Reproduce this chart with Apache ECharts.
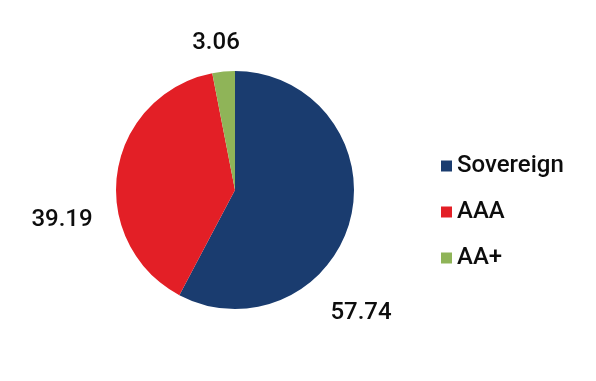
<!DOCTYPE html>
<html><head><meta charset="utf-8">
<script src="https://cdn.jsdelivr.net/npm/echarts@6/dist/echarts.min.js"></script>
<style>html,body{margin:0;padding:0;background:#fff}#c{width:596px;height:381px}</style>
</head><body><div id="c"></div>
<script>
const categories = ['Sovereign', 'AAA', 'AA+'];
const values = [57.74, 39.19, 3.06];
const colors = ['#1a3c6f', '#e31f26', '#8fb458'];
const labelPos = [[361, 313], [62, 220], [216, 43]];

const chart = echarts.init(document.getElementById('c'), null, {renderer: 'canvas'});
chart.setOption({
  animation: false,
  legend: {
    orient: 'vertical', left: 441, top: 154, padding: 0,
    itemWidth: 11, itemHeight: 11, itemGap: 22,
    icon: 'rect',
    textStyle: {fontFamily: 'Roboto', fontSize: 24, fontWeight: 500, lineHeight: 24, color: '#0d0d0d', padding: [0, 0, 0, 0]},
    data: categories
  },
  series: [{
    type: 'pie',
    center: [235, 190], radius: 119,
    startAngle: 90, clockwise: true,
    label: {show: true, position: 'outside', overflow: 'none', formatter: p => p.value.toFixed(2),
      fontFamily: 'Roboto', fontSize: 24, fontWeight: 500, color: '#0d0d0d'},
    labelLine: {show: false},
    labelLayout: p => ({x: labelPos[p.dataIndex][0], y: labelPos[p.dataIndex][1], align: 'center', verticalAlign: 'middle'}),
    emphasis: {disabled: true},
    data: categories.map((c, i) => ({name: c, value: values[i], itemStyle: {color: colors[i]}}))
  }]
});
</script></body></html>
